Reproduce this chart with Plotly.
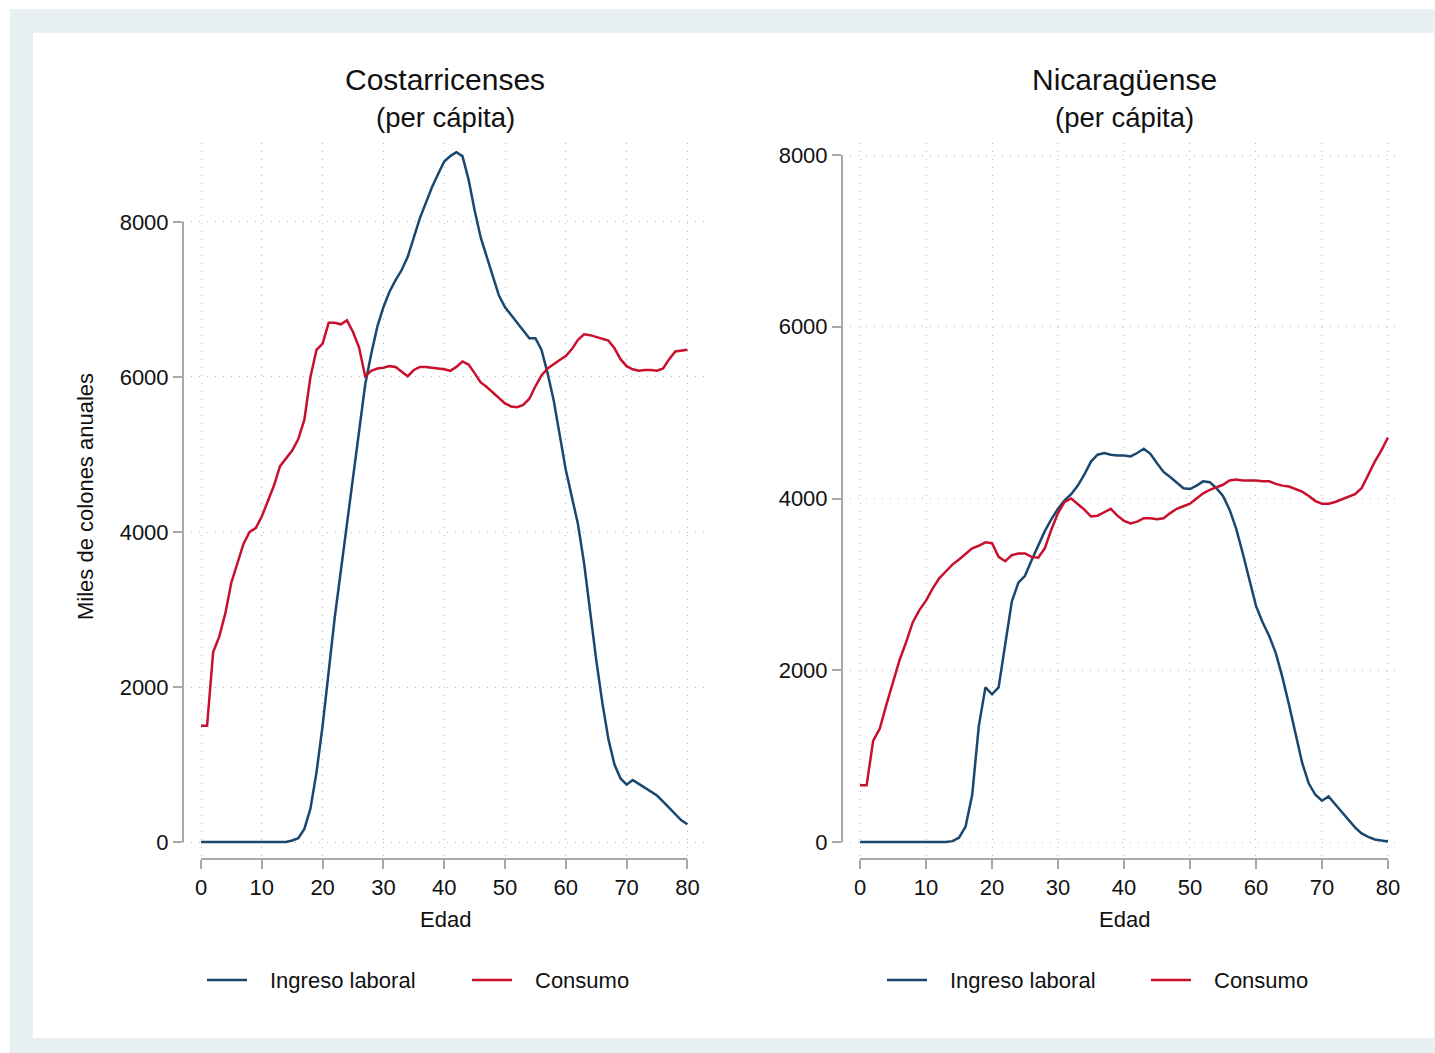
import plotly.graph_objects as go

ages = list(range(0, 81))

cr_ingreso = [0]*15 + [20, 50, 170, 430, 900, 1500, 2200, 2900, 3500, 4100, 4700, 5300, 5900, 6300, 6650,
              6900, 7100, 7250, 7380, 7550, 7800, 8050, 8250, 8450, 8620, 8780, 8850, 8900, 8850, 8550,
              8150, 7800, 7550, 7300, 7050, 6900, 6800, 6700, 6600, 6500, 6500, 6350, 6050, 5700, 5250,
              4800, 4450, 4100, 3600, 2950, 2350, 1800, 1330, 1000, 820, 740, 800, 750, 700, 660,
              600, 520, 440, 360, 280, 230]
cr_consumo = [1500, 1500, 2450, 2650, 2950, 3350, 3600, 3850, 4000, 4050, 4200, 4400, 4600, 4850, 4950,
              5050, 5200, 5450, 6000, 6350, 6430, 6700, 6700, 6680, 6730, 6580, 6380, 6010, 6080, 6110,
              6120, 6140, 6130, 6070, 6010, 6090, 6130, 6130, 6120, 6110, 6100, 6080, 6130, 6200, 6160,
              6050, 5930, 5870, 5800, 5730, 5660, 5620, 5610, 5640, 5720, 5880, 6020, 6110, 6170, 6220,
              6270, 6360, 6480, 6550, 6540, 6520, 6500, 6470, 6370, 6230, 6140, 6100, 6080, 6090, 6090,
              6080, 6110, 6230, 6330, 6340, 6350]

ni_ingreso = [0]*14 + [10, 50, 180, 550, 1350, 1800, 1720, 1800, 2300, 2800, 3020, 3100, 3280, 3460, 3620,
              3760, 3880, 3980, 4050, 4150, 4280, 4430, 4510, 4530, 4510, 4500, 4500, 4490, 4530, 4580,
              4520, 4410, 4310, 4250, 4180, 4120, 4110, 4150, 4200, 4190, 4120, 4030, 3870, 3650, 3360,
              3060, 2750, 2560, 2400, 2200, 1920, 1600, 1250, 920, 680, 550, 480, 530, 440, 350,
              260, 170, 100, 60, 30, 15, 5]
ni_consumo = [660, 660, 1180, 1320, 1600, 1870, 2120, 2330, 2560, 2700, 2810, 2950, 3070, 3150, 3230,
              3290, 3350, 3420, 3450, 3490, 3480, 3320, 3270, 3340, 3360, 3360, 3320, 3310, 3420, 3640,
              3830, 3960, 4000, 3940, 3870, 3790, 3800, 3840, 3880, 3800, 3740, 3710, 3730, 3770, 3770,
              3760, 3770, 3830, 3880, 3910, 3940, 4000, 4060, 4100, 4130, 4160, 4210, 4220, 4210, 4210,
              4210, 4200, 4200, 4170, 4150, 4140, 4110, 4080, 4030, 3970, 3940, 3940, 3960, 3990, 4020,
              4050, 4120, 4280, 4430, 4560, 4710]

x_ticks = [0, 10, 20, 30, 40, 50, 60, 70, 80]
y_ticks = [0, 2000, 4000, 6000, 8000]
titles = ["Costarricenses", "Nicaragüense"]
subtitle = "(per cápita)"
series_names = ["Ingreso laboral", "Consumo"]

W, H = 1435, 1053
BLUE = "#1a476f"
RED = "#c8102e"
GRID = "#b8b8b8"
AXC = "#a8a8a8"
TXT = "#111111"
FONT = "Helvetica, Liberation Sans, Arial, sans-serif"
FS = 22

def px(x):
    return x / W

def py(y):
    return 1 - y / H

fig = go.Figure()

panels = [
    dict(xd=(183, 705), xr=[-2.96, 82.89], yr=[-219, 9019], ing=cr_ingreso, con=cr_consumo, cx=445),
    dict(xd=(842, 1400), xr=[-2.727, 81.82], yr=[-198, 8140], ing=ni_ingreso, con=ni_consumo, cx=1124),
]

ydom = [py(859), py(143)]
shapes = [
    dict(type="rect", xref="paper", yref="paper", x0=px(10), x1=1.0, y0=0.0, y1=py(9),
         fillcolor="#e8f0f3", line=dict(width=0), layer="below"),
    dict(type="rect", xref="paper", yref="paper", x0=px(33), x1=px(1434), y0=py(1038), y1=py(33),
         fillcolor="white", line=dict(width=0), layer="below"),
]
annotations = []

for i, p in enumerate(panels):
    n = "" if i == 0 else str(i + 1)
    xa, ya = "x" + n, "y" + n
    fig.add_trace(go.Scatter(x=ages, y=p["ing"], mode="lines", line=dict(color=BLUE, width=2.5),
                             name=series_names[0], showlegend=False, xaxis=xa, yaxis=ya))
    fig.add_trace(go.Scatter(x=ages, y=p["con"], mode="lines", line=dict(color=RED, width=2.5),
                             name=series_names[1], showlegend=False, xaxis=xa, yaxis=ya))
    common = dict(showgrid=True, gridcolor=GRID, griddash="1px,7px", gridwidth=1, zeroline=False,
                  showline=False, ticks="outside", ticklen=9, tickwidth=2, tickcolor=AXC,
                  tickfont=dict(family=FONT, size=FS, color=TXT))
    fig.layout["xaxis" + n] = dict(domain=[px(p["xd"][0]), px(p["xd"][1])], range=p["xr"],
                                   anchor=ya, tickvals=x_ticks, **common)
    fig.layout["yaxis" + n] = dict(domain=ydom, range=p["yr"], anchor=xa, tickvals=y_ticks, **common)
    shapes.append(dict(type="line", xref=xa, yref=ya + " domain", x0=0, x1=80, y0=0, y1=0,
                       line=dict(color=AXC, width=2)))
    shapes.append(dict(type="line", xref=xa + " domain", yref=ya, x0=0, x1=0, y0=0, y1=8000,
                       line=dict(color=AXC, width=2)))
    annotations.append(dict(text=titles[i], x=px(p["cx"]), y=py(79), xref="paper", yref="paper",
                            showarrow=False, xanchor="center", yanchor="middle",
                            font=dict(family=FONT, size=30, color=TXT)))
    annotations.append(dict(text=subtitle, x=px(p["cx"]), y=py(117), xref="paper", yref="paper",
                            showarrow=False, xanchor="center", yanchor="middle",
                            font=dict(family=FONT, size=27.5, color=TXT)))
    annotations.append(dict(text="Edad", x=px(p["cx"]), y=py(919), xref="paper", yref="paper",
                            showarrow=False, xanchor="center", yanchor="middle",
                            font=dict(family=FONT, size=FS, color=TXT)))

annotations.append(dict(text="Miles de colones anuales", x=px(86), y=py(497), xref="paper", yref="paper",
                        showarrow=False, textangle=-90, xanchor="center", yanchor="middle",
                        font=dict(family=FONT, size=FS, color=TXT)))

leg = [
    [(207, 247, 268, BLUE, series_names[0]), (472, 512, 533, RED, series_names[1])],
    [(887, 927, 948, BLUE, series_names[0]), (1151, 1191, 1212, RED, series_names[1])],
]
for row in leg:
    for x0, x1, tx, col, lab in row:
        shapes.append(dict(type="line", xref="paper", yref="paper", x0=px(x0), x1=px(x1),
                           y0=py(980), y1=py(980), line=dict(color=col, width=2.5)))
        annotations.append(dict(text=lab, x=px(tx), y=py(980), xref="paper", yref="paper",
                                showarrow=False, xanchor="left", yanchor="middle",
                                font=dict(family=FONT, size=FS, color=TXT)))

fig.update_layout(width=W, height=H, margin=dict(l=0, r=0, t=0, b=0),
                  paper_bgcolor="white", plot_bgcolor="rgba(0,0,0,0)",
                  shapes=shapes, annotations=annotations, showlegend=False)

fig.write_html("out.html", config={"displayModeBar": False},
               post_script="document.body.style.margin='0';document.body.style.overflow='hidden';")
